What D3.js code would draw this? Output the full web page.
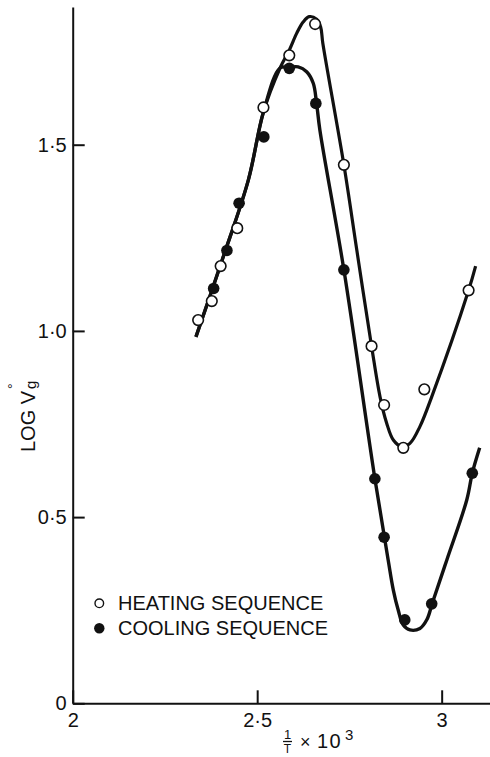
<!DOCTYPE html>
<html>
<head>
<meta charset="utf-8">
<script src="https://cdn.jsdelivr.net/npm/d3@7"></script>
<style>
  html, body { margin: 0; padding: 0; background: #fff; }
  svg { display: block; }
</style>
</head>
<body>
<script>
// Retention volume vs reciprocal temperature: heating and cooling runs
const xTickValues = [2, 2.5, 3];
const xTickLabels = ["2", "2·5", "3"];
const yTickValues = [0, 0.5, 1, 1.5];
const yTickLabels = ["0", "0·5", "1·0", "1·5"];
const legendLabels = ["HEATING SEQUENCE", "COOLING SEQUENCE"];

// measured points [1/T x 10^3, log Vg]
const heatingPoints = [
  [2.340, 1.029], [2.377, 1.080], [2.401, 1.174], [2.446, 1.276],
  [2.517, 1.600], [2.587, 1.740], [2.657, 1.824], [2.735, 1.446],
  [2.810, 0.959], [2.844, 0.801], [2.896, 0.686], [2.953, 0.843],
  [3.073, 1.109]
];
const coolingPoints = [
  [2.382, 1.114], [2.418, 1.216], [2.451, 1.343], [2.518, 1.521],
  [2.587, 1.705], [2.659, 1.611], [2.735, 1.164], [2.819, 0.603],
  [2.844, 0.446], [2.900, 0.224], [2.973, 0.267], [3.083, 0.618]
];

// hand-fitted curves through each run
const heatingFit = [
  [2.334, 0.984], [2.405, 1.190], [2.476, 1.405], [2.517, 1.588],
  [2.562, 1.706], [2.587, 1.754], [2.607, 1.799], [2.625, 1.830],
  [2.641, 1.844], [2.661, 1.837], [2.672, 1.816], [2.678, 1.772],
  [2.735, 1.446], [2.770, 1.217], [2.810, 0.959], [2.833, 0.823],
  [2.851, 0.752], [2.869, 0.707], [2.892, 0.689], [2.914, 0.698],
  [2.941, 0.743], [2.973, 0.823], [3.073, 1.109], [3.092, 1.174]
];
const coolingFit = [
  [2.334, 0.984], [2.405, 1.190], [2.476, 1.405], [2.517, 1.588],
  [2.562, 1.706], [2.587, 1.708], [2.611, 1.709], [2.634, 1.696],
  [2.652, 1.665], [2.661, 1.611], [2.670, 1.539], [2.735, 1.164],
  [2.819, 0.603], [2.855, 0.385], [2.869, 0.304], [2.882, 0.251],
  [2.896, 0.210], [2.914, 0.197], [2.941, 0.201], [2.960, 0.225],
  [2.975, 0.270], [3.014, 0.385], [3.068, 0.546], [3.083, 0.618],
  [3.103, 0.686]
];

const W = 490, H = 757;
const ink = "#111";
const font = "'Liberation Sans', Arial, sans-serif";

const svg = d3.select("body").append("svg")
  .attr("width", W).attr("height", H);

const x = d3.scaleLinear().domain([2, 3.131]).range([72.7, 490]);
const y = d3.scaleLinear().domain([0, 1.8698]).range([703.3, 7]);

// axes with inward ticks
const yAxis = d3.axisLeft(y)
  .tickValues(yTickValues)
  .tickFormat((d, i) => yTickLabels[i])
  .tickSizeInner(-12).tickSizeOuter(0).tickPadding(6);
const xAxis = d3.axisBottom(x)
  .tickValues(xTickValues)
  .tickFormat((d, i) => xTickLabels[i])
  .tickSizeInner(-13).tickSizeOuter(0).tickPadding(10);

const gy = svg.append("g").attr("transform", `translate(${x(2)},0)`).call(yAxis);
const gx = svg.append("g").attr("transform", `translate(0,${y(0)})`).call(xAxis);

[gx, gy].forEach(g => {
  g.select(".domain").attr("stroke", ink).attr("stroke-width", 2);
  g.selectAll(".tick line").attr("stroke", ink).attr("stroke-width", 2);
  g.selectAll(".tick text")
    .attr("fill", ink)
    .style("font-family", font)
    .style("font-size", "20px");
});

// fitted curves
const line = d3.line()
  .x(d => x(d[0]))
  .y(d => y(d[1]))
  .curve(d3.curveCatmullRom.alpha(0.5));

svg.append("path").datum(heatingFit)
  .attr("d", line).attr("fill", "none")
  .attr("stroke", ink).attr("stroke-width", 3.2);
svg.append("path").datum(coolingFit)
  .attr("d", line).attr("fill", "none")
  .attr("stroke", ink).attr("stroke-width", 3.4);

// measured points
svg.append("g").selectAll("circle").data(heatingPoints).join("circle")
  .attr("cx", d => x(d[0])).attr("cy", d => y(d[1]))
  .attr("r", 5.3).attr("fill", "#fff")
  .attr("stroke", ink).attr("stroke-width", 1.6);
svg.append("g").selectAll("circle").data(coolingPoints).join("circle")
  .attr("cx", d => x(d[0])).attr("cy", d => y(d[1]))
  .attr("r", 5.8).attr("fill", ink);

// legend
const legend = svg.append("g");
legend.append("circle").attr("cx", 99.3).attr("cy", 603.3).attr("r", 4.3)
  .attr("fill", "#fff").attr("stroke", ink).attr("stroke-width", 1.4);
legend.append("circle").attr("cx", 99.3).attr("cy", 628.3).attr("r", 5.2)
  .attr("fill", ink);
legend.selectAll("text").data(legendLabels).join("text")
  .attr("x", 118).attr("y", (d, i) => 610 + i * 25)
  .attr("fill", ink)
  .style("font-family", font).style("font-size", "20px")
  .text(d => d);

// y-axis title: LOG V°g
const yt = svg.append("g").attr("transform", "translate(35,452) rotate(-90)")
  .attr("fill", ink).style("font-family", font);
yt.append("text").attr("x", 0).attr("y", 0).style("font-size", "20px").text("LOG V");
yt.append("text").attr("x", 63).attr("y", -17).style("font-size", "14px").text("°");
yt.append("text").attr("x", 63).attr("y", 1).style("font-size", "15px").text("g");

// x-axis title: 1/T x 10^3
const xt = svg.append("g").attr("fill", ink).style("font-family", font);
xt.append("text").attr("x", 287.5).attr("y", 739).attr("text-anchor", "middle")
  .style("font-size", "13px").text("1");
xt.append("line").attr("x1", 283).attr("x2", 292).attr("y1", 741.5).attr("y2", 741.5)
  .attr("stroke", ink).attr("stroke-width", 1.3);
xt.append("text").attr("x", 287.5).attr("y", 753).attr("text-anchor", "middle")
  .style("font-size", "12px").text("T");
xt.append("text").attr("x", 300).attr("y", 748).style("font-size", "18px").text("×");
xt.append("text").attr("x", 317).attr("y", 748).style("font-size", "20px")
  .style("letter-spacing", "1.5px").text("10");
xt.append("text").attr("x", 345).attr("y", 740).style("font-size", "15px").text("3");
</script>
</body>
</html>
